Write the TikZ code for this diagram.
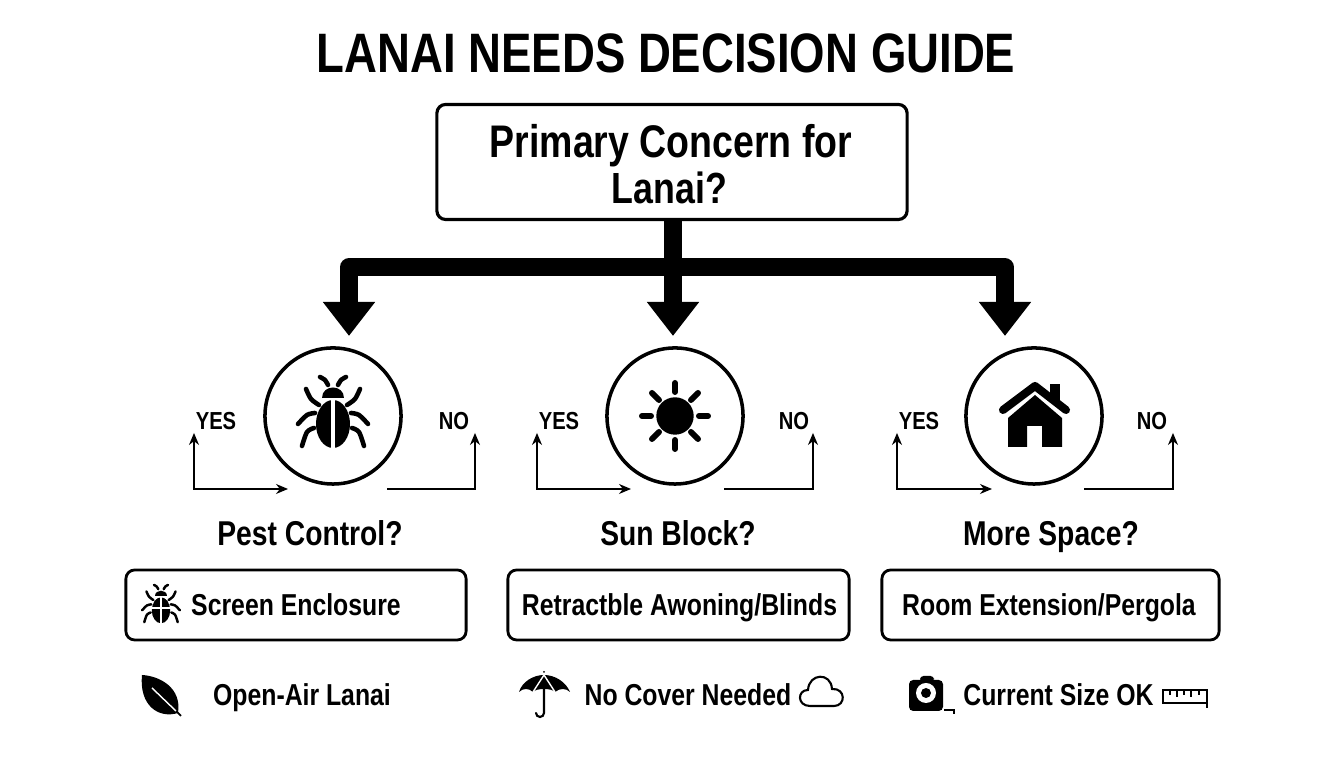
\documentclass[tikz,border=0pt]{standalone}
\usepackage{fontspec}
\setmainfont{Liberation Sans}[FakeStretch=0.82]
\usepackage{tikz}
\usepackage{xcolor}
\usetikzlibrary{arrows.meta}

\tikzset{
  titletext/.style={anchor=base,font=\bfseries\fontsize{15.8}{18}\selectfont},
  quesbox/.style={draw,line width=0.9pt,rounded corners=2.5pt,minimum width=4.7cm,minimum height=1.15cm},
  questext/.style={anchor=base,font=\bfseries\fontsize{13}{14}\selectfont},
  iconring/.style={circle,draw,line width=1pt,minimum size=1.36cm,inner sep=0pt},
  answertext/.style={anchor=base,font=\bfseries\fontsize{7}{8}\selectfont},
  asktext/.style={anchor=base,font=\bfseries\fontsize{9.8}{10}\selectfont},
  choicebox/.style={draw,line width=0.8pt,rounded corners=2.5pt,minimum height=0.7cm,inner sep=0pt},
  choicetext/.style={anchor=base,font=\bfseries\fontsize{8.6}{10}\selectfont},
  bigarrow/.style={line width=5pt,line join=round,-{Triangle[width=5mm,length=3.4mm]}},
  yesarrow/.style={line width=0.35pt,{Stealth[length=1.2mm,width=1mm]}-{Stealth[length=1.2mm,width=1mm]}},
  noarrow/.style={line width=0.35pt,-{Stealth[length=1.2mm,width=1mm]}},
  leg/.style={line width=#1,line cap=round,line join=round},
}

\newcommand{\bugicon}[3]{%
\begin{scope}[shift={(#1,#2)},scale=#3]
\fill (0,8) ellipse [x radius=17,y radius=24];
\draw[white,line width=#3*1pt] (0,-18) -- (0,33);
\fill (-11,-18) .. controls (-11,-32) and (11,-32) .. (11,-18) -- cycle;
\draw[leg=#3*1.3pt] plot[smooth] coordinates {(-5,-31) (-8,-36) (-13,-39)};
\draw[leg=#3*1.3pt] plot[smooth] coordinates {(5,-31) (8,-36) (13,-39)};
\draw[leg=#3*1.3pt] plot[smooth] coordinates {(-27,-27) (-22,-17) (-14,-11)};
\draw[leg=#3*1.3pt] plot[smooth] coordinates {(27,-27) (22,-17) (14,-11)};
\draw[leg=#3*1.3pt] plot[smooth] coordinates {(-35,8) (-26,-1) (-18,-3)};
\draw[leg=#3*1.3pt] plot[smooth] coordinates {(35,8) (26,-1) (18,-3)};
\draw[leg=#3*1.3pt] plot[smooth] coordinates {(-31,30) (-26,16) (-19,12)};
\draw[leg=#3*1.3pt] plot[smooth] coordinates {(31,30) (26,16) (19,12)};
\end{scope}}

\begin{document}
\begin{tikzpicture}[x=0.01cm,y=-0.01cm]
\useasboundingbox (0,0) rectangle (1344,768);
\node[titletext] (title) at (666,73) {LANAI NEEDS DECISION GUIDE};
\node[quesbox] (primary) at (672,162) {};
\node[questext] (primaryone) at (671,158) {Primary Concern for};
\node[questext,font=\bfseries\fontsize{12.4}{14}\selectfont] (primarytwo) at (669.5,204) {Lanai?};

\node[iconring] (pest) at (333,416) {};
\node[iconring] (sun) at (675,416) {};
\node[iconring] (house) at (1034,416) {};

% big arrows
\coordinate (pesttip) at (349,336);
\coordinate (suntip) at (673,336);
\coordinate (housetip) at (1005,336);
\coordinate (bar) at (673,267);
\draw[bigarrow] (primary.south -| suntip) -- (suntip);
\draw[bigarrow] (bar) -| (pesttip);
\draw[bigarrow] (bar) -| (housetip);

% pest branch
\node[answertext] (pestyes) at (216,430) {YES};
\node[answertext] (pestno) at (454,430) {NO};
\coordinate (pestyesa) at (194,433);
\coordinate (pestyesb) at (288,489);
\coordinate (pestnoa) at (387,489);
\coordinate (pestnob) at (475,433);
\draw[yesarrow] (pestyesb) -| (pestyesa);
\draw[noarrow] (pestnoa) -| (pestnob);
% sun branch
\node[answertext] (sunyes) at (559,430) {YES};
\node[answertext] (sunno) at (794,430) {NO};
\coordinate (sunyesa) at (537,433);
\coordinate (sunyesb) at (631,489);
\coordinate (sunnoa) at (724,489);
\coordinate (sunnob) at (813,433);
\draw[yesarrow] (sunyesb) -| (sunyesa);
\draw[noarrow] (sunnoa) -| (sunnob);
% house branch
\node[answertext] (houseyes) at (919,430) {YES};
\node[answertext] (houseno) at (1152,430) {NO};
\coordinate (houseyesa) at (897,433);
\coordinate (houseyesb) at (992,489);
\coordinate (housenoa) at (1084,489);
\coordinate (housenob) at (1173,433);
\draw[yesarrow] (houseyesb) -| (houseyesa);
\draw[noarrow] (housenoa) -| (housenob);

\node[asktext] (pestask) at (310,546) {Pest Control?};
\node[asktext] (sunask) at (678,546) {Sun Block?};
\node[asktext] (houseask) at (1051,546) {More Space?};

\node[choicebox,minimum width=3.4cm] (pestbox) at (296,605) {};
\node[choicebox,minimum width=3.41cm] (sunbox) at (678.5,605) {};
\node[choicebox,minimum width=3.37cm] (housebox) at (1050.5,605) {};
\node[choicetext] (pesttext) at (296,616) {Screen Enclosure};
\node[choicetext] (suntext) at (679.5,616) {Retractble Awoning/Blinds};
\node[choicetext] (housetext) at (1049,616) {Room Extension/Pergola};

\node[choicetext] (pestnotext) at (302,706) {Open-Air Lanai};
\node[choicetext] (sunnotext) at (688,706) {No Cover Needed};
\node[choicetext] (housenotext) at (1058.5,706) {Current Size OK};

% bugs
\bugicon{333}{416}{1}
\bugicon{161}{606}{0.54}
\draw[white,line width=0.5pt] (147,608) -- (175,608);

% sun
\fill (675,416) circle [radius=18.7];
\draw[leg=1.7pt] (675,383) -- (675,392);
\draw[leg=1.7pt] (675,440) -- (675,449);
\draw[leg=1.7pt] (642,416) -- (651,416);
\draw[leg=1.7pt] (699,416) -- (708,416);
\draw[leg=1.7pt] (652,393) -- (659,400);
\draw[leg=1.7pt] (698,393) -- (691,400);
\draw[leg=1.7pt] (652,439) -- (659,432);
\draw[leg=1.7pt] (698,439) -- (691,432);

% house
\fill (1050,384) rectangle (1060,400);
\draw[leg=2.3pt] (1003,410) -- (1035,386) -- (1066,410);
\fill (1008,447) -- (1008,418) -- (1035,395) -- (1062,418) -- (1062,447) -- (1042,447) -- (1042,426) -- (1027,426) -- (1027,447) -- cycle;

% leaf
\fill (142,675) .. controls (160,676) and (182,688) .. (178,713) .. controls (158,719) and (139,705) .. (142,675) -- cycle;
\draw[white,line width=0.4pt] (152,688) -- (177,712);
\draw[line width=0.5pt] (176,711) -- (181,716);

% umbrella
\fill (519,692) .. controls (522,682) and (533,675) .. (544,675) .. controls (555,675) and (566,682) .. (570,692)
  .. controls (566,688) and (560,688) .. (555,692) .. controls (552,688) and (536,688) .. (533,692) .. controls (529,688) and (523,688) .. (519,692) -- cycle;
\draw[white,line width=0.4pt] (544,675) -- (533,692);
\draw[white,line width=0.4pt] (544,675) -- (555,692);
\fill (544,672) circle [radius=1];
\draw[line width=0.6pt,line cap=round] (544,689) -- (544,713) arc [start angle=0,end angle=180,radius=4];

% cloud
\draw[line width=0.6pt] (810,706) .. controls (797,706) and (797,690) .. (808,690) .. controls (809,673) and (831,672) .. (832,689) .. controls (846,688) and (846,706) .. (834,706) -- cycle;

% camera and tape
\fill[rounded corners=1.2pt] (909,680) rectangle (943,711);
\fill[rounded corners=1pt] (920,676) rectangle (934,682);
\fill[white] (926,693) circle [radius=10];
\fill (926,693) circle [radius=5];
\draw[line width=0.5pt] (944,710) -| (954,714);
\draw[line width=0.7pt] (1163,690) rectangle (1207,703);
\draw[line width=0.7pt] (1207,703) -- (1207,708);
\draw[line width=0.45pt] (1170,690) -- (1170,695);
\draw[line width=0.45pt] (1177,690) -- (1177,697);
\draw[line width=0.45pt] (1184,690) -- (1184,695);
\draw[line width=0.45pt] (1191,690) -- (1191,697);
\draw[line width=0.45pt] (1199,690) -- (1199,695);
\end{tikzpicture}
\end{document}
